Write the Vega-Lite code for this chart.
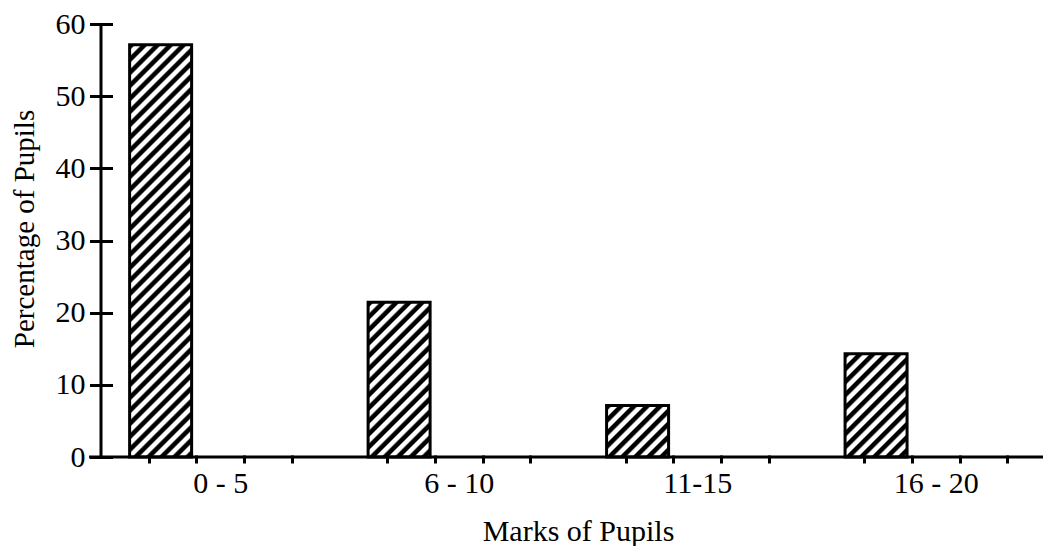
{
  "$schema": "https://vega.github.io/schema/vega-lite/v6.json",
  "width": 942,
  "height": 433,
  "autosize": {"type": "none"},
  "padding": {"left": 101, "top": 24, "right": 0, "bottom": 89},
  "background": "white",
  "config": {"view": {"stroke": null}, "font": "Liberation Serif"},
  "data": {"values": [
    {"marks": "0 - 5", "start": -0.4, "end": 0.9, "pct": 57.14},
    {"marks": "6 - 10", "start": 4.6, "end": 5.9, "pct": 21.43},
    {"marks": "11-15", "start": 9.6, "end": 10.9, "pct": 7.14},
    {"marks": "16 - 20", "start": 14.6, "end": 15.9, "pct": 14.29}
  ]},
  "layer": [
    {
      "encoding": {
        "x": {"field": "start", "type": "quantitative",
          "scale": {"domain": [-1, 18.75], "nice": false, "zero": false},
          "axis": {
            "title": "Marks of Pupils",
            "values": [0, 1, 1.5, 2, 3, 5, 6, 6.5, 7, 8, 10, 11, 11.5, 12, 13, 15, 16, 16.5, 17, 18],
            "labelExpr": "datum.value == 1.5 ? '0 - 5' : datum.value == 6.5 ? '6 - 10' : datum.value == 11.5 ? '11-15' : datum.value == 16.5 ? '16 - 20' : ''",
            "domain": false, "grid": false, "offset": -2,
            "tickSize": 8, "tickWidth": 3, "tickColor": "black",
            "tickOpacity": {"condition": {"test": "datum.value % 5 === 1.5", "value": 0}, "value": 1},
            "labelPadding": 5, "labelFontSize": 30, "labelColor": "black", "labelFont": "Liberation Serif",
            "labelOverlap": false, "labelFlush": false, "labelBound": false,
            "titleFont": "Liberation Serif", "titleFontSize": 30, "titleFontWeight": "normal", "titleColor": "black",
            "titleX": 477, "titleY": 85, "titleBaseline": "alphabetic", "titleAlign": "center"
          }},
        "x2": {"field": "end"},
        "y": {"field": "pct", "type": "quantitative",
          "scale": {"domain": [0, 60], "nice": false, "zero": true},
          "axis": {
            "title": "Percentage of Pupils",
            "values": [0, 10, 20, 30, 40, 50, 60],
            "domain": false, "grid": false, "offset": -11.5,
            "tickSize": 23, "tickWidth": 3, "tickColor": "black",
            "labelPadding": 4.5, "labelFontSize": 30, "labelColor": "black", "labelFont": "Liberation Serif",
            "labelOverlap": false, "labelFlush": false,
            "titleFont": "Liberation Serif", "titleFontSize": 29, "titleFontWeight": "normal", "titleColor": "black",
            "titleAngle": -90, "titleX": -79.5, "titleY": 204.5, "titleBaseline": "alphabetic", "titleAlign": "center"
          }},
        "y2": {"datum": 0}
      },
      "layer": [
        {
          "transform": [{"filter": "datum.marks === '0 - 5'"}],
          "mark": {"type": "bar", "stroke": "black", "strokeWidth": 3, "fill": {"gradient": "linear", "x1": 0, "y1": 0, "x2": 0.18541, "y2": 1.23316, "stops": [
            {"offset":0,"color":"#000"},{"offset":0.00875,"color":"#000"},{"offset":0.0125,"color":"#fff"},{"offset":0.02125,"color":"#fff"},
            {"offset":0.025,"color":"#000"},{"offset":0.03375,"color":"#000"},{"offset":0.0375,"color":"#fff"},{"offset":0.04625,"color":"#fff"},
            {"offset":0.05,"color":"#000"},{"offset":0.05875,"color":"#000"},{"offset":0.0625,"color":"#fff"},{"offset":0.07125,"color":"#fff"},
            {"offset":0.075,"color":"#000"},{"offset":0.08375,"color":"#000"},{"offset":0.0875,"color":"#fff"},{"offset":0.09625,"color":"#fff"},
            {"offset":0.1,"color":"#000"},{"offset":0.10875,"color":"#000"},{"offset":0.1125,"color":"#fff"},{"offset":0.12125,"color":"#fff"},
            {"offset":0.125,"color":"#000"},{"offset":0.13375,"color":"#000"},{"offset":0.1375,"color":"#fff"},{"offset":0.14625,"color":"#fff"},
            {"offset":0.15,"color":"#000"},{"offset":0.15875,"color":"#000"},{"offset":0.1625,"color":"#fff"},{"offset":0.17125,"color":"#fff"},
            {"offset":0.175,"color":"#000"},{"offset":0.18375,"color":"#000"},{"offset":0.1875,"color":"#fff"},{"offset":0.19625,"color":"#fff"},
            {"offset":0.2,"color":"#000"},{"offset":0.20875,"color":"#000"},{"offset":0.2125,"color":"#fff"},{"offset":0.22125,"color":"#fff"},
            {"offset":0.225,"color":"#000"},{"offset":0.23375,"color":"#000"},{"offset":0.2375,"color":"#fff"},{"offset":0.24625,"color":"#fff"},
            {"offset":0.25,"color":"#000"},{"offset":0.25875,"color":"#000"},{"offset":0.2625,"color":"#fff"},{"offset":0.27125,"color":"#fff"},
            {"offset":0.275,"color":"#000"},{"offset":0.28375,"color":"#000"},{"offset":0.2875,"color":"#fff"},{"offset":0.29625,"color":"#fff"},
            {"offset":0.3,"color":"#000"},{"offset":0.30875,"color":"#000"},{"offset":0.3125,"color":"#fff"},{"offset":0.32125,"color":"#fff"},
            {"offset":0.325,"color":"#000"},{"offset":0.33375,"color":"#000"},{"offset":0.3375,"color":"#fff"},{"offset":0.34625,"color":"#fff"},
            {"offset":0.35,"color":"#000"},{"offset":0.35875,"color":"#000"},{"offset":0.3625,"color":"#fff"},{"offset":0.37125,"color":"#fff"},
            {"offset":0.375,"color":"#000"},{"offset":0.38375,"color":"#000"},{"offset":0.3875,"color":"#fff"},{"offset":0.39625,"color":"#fff"},
            {"offset":0.4,"color":"#000"},{"offset":0.40875,"color":"#000"},{"offset":0.4125,"color":"#fff"},{"offset":0.42125,"color":"#fff"},
            {"offset":0.425,"color":"#000"},{"offset":0.43375,"color":"#000"},{"offset":0.4375,"color":"#fff"},{"offset":0.44625,"color":"#fff"},
            {"offset":0.45,"color":"#000"},{"offset":0.45875,"color":"#000"},{"offset":0.4625,"color":"#fff"},{"offset":0.47125,"color":"#fff"},
            {"offset":0.475,"color":"#000"},{"offset":0.48375,"color":"#000"},{"offset":0.4875,"color":"#fff"},{"offset":0.49625,"color":"#fff"},
            {"offset":0.5,"color":"#000"},{"offset":0.50875,"color":"#000"},{"offset":0.5125,"color":"#fff"},{"offset":0.52125,"color":"#fff"},
            {"offset":0.525,"color":"#000"},{"offset":0.53375,"color":"#000"},{"offset":0.5375,"color":"#fff"},{"offset":0.54625,"color":"#fff"},
            {"offset":0.55,"color":"#000"},{"offset":0.55875,"color":"#000"},{"offset":0.5625,"color":"#fff"},{"offset":0.57125,"color":"#fff"},
            {"offset":0.575,"color":"#000"},{"offset":0.58375,"color":"#000"},{"offset":0.5875,"color":"#fff"},{"offset":0.59625,"color":"#fff"},
            {"offset":0.6,"color":"#000"},{"offset":0.60875,"color":"#000"},{"offset":0.6125,"color":"#fff"},{"offset":0.62125,"color":"#fff"},
            {"offset":0.625,"color":"#000"},{"offset":0.63375,"color":"#000"},{"offset":0.6375,"color":"#fff"},{"offset":0.64625,"color":"#fff"},
            {"offset":0.65,"color":"#000"},{"offset":0.65875,"color":"#000"},{"offset":0.6625,"color":"#fff"},{"offset":0.67125,"color":"#fff"},
            {"offset":0.675,"color":"#000"},{"offset":0.68375,"color":"#000"},{"offset":0.6875,"color":"#fff"},{"offset":0.69625,"color":"#fff"},
            {"offset":0.7,"color":"#000"},{"offset":0.70875,"color":"#000"},{"offset":0.7125,"color":"#fff"},{"offset":0.72125,"color":"#fff"},
            {"offset":0.725,"color":"#000"},{"offset":0.73375,"color":"#000"},{"offset":0.7375,"color":"#fff"},{"offset":0.74625,"color":"#fff"},
            {"offset":0.75,"color":"#000"},{"offset":0.75875,"color":"#000"},{"offset":0.7625,"color":"#fff"},{"offset":0.77125,"color":"#fff"},
            {"offset":0.775,"color":"#000"},{"offset":0.78375,"color":"#000"},{"offset":0.7875,"color":"#fff"},{"offset":0.79625,"color":"#fff"},
            {"offset":0.8,"color":"#000"},{"offset":0.80875,"color":"#000"},{"offset":0.8125,"color":"#fff"},{"offset":0.82125,"color":"#fff"},
            {"offset":0.825,"color":"#000"},{"offset":0.83375,"color":"#000"},{"offset":0.8375,"color":"#fff"},{"offset":0.84625,"color":"#fff"},
            {"offset":0.85,"color":"#000"},{"offset":0.85875,"color":"#000"},{"offset":0.8625,"color":"#fff"},{"offset":0.87125,"color":"#fff"},
            {"offset":0.875,"color":"#000"},{"offset":0.88375,"color":"#000"},{"offset":0.8875,"color":"#fff"},{"offset":0.89625,"color":"#fff"},
            {"offset":0.9,"color":"#000"},{"offset":0.90875,"color":"#000"},{"offset":0.9125,"color":"#fff"},{"offset":0.92125,"color":"#fff"},
            {"offset":0.925,"color":"#000"}
          ]}}
        },
        {
          "transform": [{"filter": "datum.marks === '6 - 10'"}],
          "mark": {"type": "bar", "stroke": "black", "strokeWidth": 3, "fill": {"gradient": "linear", "x1": 0, "y1": 0, "x2": 1.16136, "y2": 2.89684, "stops": [
            {"offset":0,"color":"#000"},{"offset":0.00875,"color":"#000"},{"offset":0.0125,"color":"#fff"},{"offset":0.02125,"color":"#fff"},
            {"offset":0.025,"color":"#000"},{"offset":0.03375,"color":"#000"},{"offset":0.0375,"color":"#fff"},{"offset":0.04625,"color":"#fff"},
            {"offset":0.05,"color":"#000"},{"offset":0.05875,"color":"#000"},{"offset":0.0625,"color":"#fff"},{"offset":0.07125,"color":"#fff"},
            {"offset":0.075,"color":"#000"},{"offset":0.08375,"color":"#000"},{"offset":0.0875,"color":"#fff"},{"offset":0.09625,"color":"#fff"},
            {"offset":0.1,"color":"#000"},{"offset":0.10875,"color":"#000"},{"offset":0.1125,"color":"#fff"},{"offset":0.12125,"color":"#fff"},
            {"offset":0.125,"color":"#000"},{"offset":0.13375,"color":"#000"},{"offset":0.1375,"color":"#fff"},{"offset":0.14625,"color":"#fff"},
            {"offset":0.15,"color":"#000"},{"offset":0.15875,"color":"#000"},{"offset":0.1625,"color":"#fff"},{"offset":0.17125,"color":"#fff"},
            {"offset":0.175,"color":"#000"},{"offset":0.18375,"color":"#000"},{"offset":0.1875,"color":"#fff"},{"offset":0.19625,"color":"#fff"},
            {"offset":0.2,"color":"#000"},{"offset":0.20875,"color":"#000"},{"offset":0.2125,"color":"#fff"},{"offset":0.22125,"color":"#fff"},
            {"offset":0.225,"color":"#000"},{"offset":0.23375,"color":"#000"},{"offset":0.2375,"color":"#fff"},{"offset":0.24625,"color":"#fff"},
            {"offset":0.25,"color":"#000"},{"offset":0.25875,"color":"#000"},{"offset":0.2625,"color":"#fff"},{"offset":0.27125,"color":"#fff"},
            {"offset":0.275,"color":"#000"},{"offset":0.28375,"color":"#000"},{"offset":0.2875,"color":"#fff"},{"offset":0.29625,"color":"#fff"},
            {"offset":0.3,"color":"#000"},{"offset":0.30875,"color":"#000"},{"offset":0.3125,"color":"#fff"},{"offset":0.32125,"color":"#fff"},
            {"offset":0.325,"color":"#000"},{"offset":0.33375,"color":"#000"},{"offset":0.3375,"color":"#fff"},{"offset":0.34625,"color":"#fff"},
            {"offset":0.35,"color":"#000"},{"offset":0.35875,"color":"#000"},{"offset":0.3625,"color":"#fff"},{"offset":0.37125,"color":"#fff"},
            {"offset":0.375,"color":"#000"},{"offset":0.38375,"color":"#000"},{"offset":0.3875,"color":"#fff"},{"offset":0.39625,"color":"#fff"},
            {"offset":0.4,"color":"#000"},{"offset":0.40875,"color":"#000"},{"offset":0.4125,"color":"#fff"},{"offset":0.42125,"color":"#fff"},
            {"offset":0.425,"color":"#000"}
          ]}}
        },
        {
          "transform": [{"filter": "datum.marks === '11-15'"}],
          "mark": {"type": "bar", "stroke": "black", "strokeWidth": 3, "fill": {"gradient": "linear", "x1": 0, "y1": 0, "x2": 4.96046, "y2": 4.12278, "stops": [
            {"offset":0,"color":"#000"},{"offset":0.00875,"color":"#000"},{"offset":0.0125,"color":"#fff"},{"offset":0.02125,"color":"#fff"},
            {"offset":0.025,"color":"#000"},{"offset":0.03375,"color":"#000"},{"offset":0.0375,"color":"#fff"},{"offset":0.04625,"color":"#fff"},
            {"offset":0.05,"color":"#000"},{"offset":0.05875,"color":"#000"},{"offset":0.0625,"color":"#fff"},{"offset":0.07125,"color":"#fff"},
            {"offset":0.075,"color":"#000"},{"offset":0.08375,"color":"#000"},{"offset":0.0875,"color":"#fff"},{"offset":0.09625,"color":"#fff"},
            {"offset":0.1,"color":"#000"},{"offset":0.10875,"color":"#000"},{"offset":0.1125,"color":"#fff"},{"offset":0.12125,"color":"#fff"},
            {"offset":0.125,"color":"#000"},{"offset":0.13375,"color":"#000"},{"offset":0.1375,"color":"#fff"},{"offset":0.14625,"color":"#fff"},
            {"offset":0.15,"color":"#000"},{"offset":0.15875,"color":"#000"},{"offset":0.1625,"color":"#fff"},{"offset":0.17125,"color":"#fff"},
            {"offset":0.175,"color":"#000"},{"offset":0.18375,"color":"#000"},{"offset":0.1875,"color":"#fff"},{"offset":0.19625,"color":"#fff"},
            {"offset":0.2,"color":"#000"},{"offset":0.20875,"color":"#000"},{"offset":0.2125,"color":"#fff"},{"offset":0.22125,"color":"#fff"},
            {"offset":0.225,"color":"#000"}
          ]}}
        },
        {
          "transform": [{"filter": "datum.marks === '16 - 20'"}],
          "mark": {"type": "bar", "stroke": "black", "strokeWidth": 3, "fill": {"gradient": "linear", "x1": 0, "y1": 0, "x2": 2.22655, "y2": 3.70361, "stops": [
            {"offset":0,"color":"#000"},{"offset":0.00875,"color":"#000"},{"offset":0.0125,"color":"#fff"},{"offset":0.02125,"color":"#fff"},
            {"offset":0.025,"color":"#000"},{"offset":0.03375,"color":"#000"},{"offset":0.0375,"color":"#fff"},{"offset":0.04625,"color":"#fff"},
            {"offset":0.05,"color":"#000"},{"offset":0.05875,"color":"#000"},{"offset":0.0625,"color":"#fff"},{"offset":0.07125,"color":"#fff"},
            {"offset":0.075,"color":"#000"},{"offset":0.08375,"color":"#000"},{"offset":0.0875,"color":"#fff"},{"offset":0.09625,"color":"#fff"},
            {"offset":0.1,"color":"#000"},{"offset":0.10875,"color":"#000"},{"offset":0.1125,"color":"#fff"},{"offset":0.12125,"color":"#fff"},
            {"offset":0.125,"color":"#000"},{"offset":0.13375,"color":"#000"},{"offset":0.1375,"color":"#fff"},{"offset":0.14625,"color":"#fff"},
            {"offset":0.15,"color":"#000"},{"offset":0.15875,"color":"#000"},{"offset":0.1625,"color":"#fff"},{"offset":0.17125,"color":"#fff"},
            {"offset":0.175,"color":"#000"},{"offset":0.18375,"color":"#000"},{"offset":0.1875,"color":"#fff"},{"offset":0.19625,"color":"#fff"},
            {"offset":0.2,"color":"#000"},{"offset":0.20875,"color":"#000"},{"offset":0.2125,"color":"#fff"},{"offset":0.22125,"color":"#fff"},
            {"offset":0.225,"color":"#000"},{"offset":0.23375,"color":"#000"},{"offset":0.2375,"color":"#fff"},{"offset":0.24625,"color":"#fff"},
            {"offset":0.25,"color":"#000"},{"offset":0.25875,"color":"#000"},{"offset":0.2625,"color":"#fff"},{"offset":0.27125,"color":"#fff"},
            {"offset":0.275,"color":"#000"},{"offset":0.28375,"color":"#000"},{"offset":0.2875,"color":"#fff"},{"offset":0.29625,"color":"#fff"},
            {"offset":0.3,"color":"#000"},{"offset":0.30875,"color":"#000"},{"offset":0.3125,"color":"#fff"},{"offset":0.32125,"color":"#fff"},
            {"offset":0.325,"color":"#000"}
          ]}}
        }
      ]
    },
    {
      "data": {"values": [{"line": "x axis"}]},
      "mark": {"type": "rule", "color": "black", "strokeWidth": 3},
      "encoding": {
        "x": {"datum": -1.25, "type": "quantitative"},
        "x2": {"datum": 18.75},
        "y": {"datum": 0, "type": "quantitative"}
      }
    },
    {
      "data": {"values": [{"line": "y axis"}]},
      "mark": {"type": "rule", "color": "black", "strokeWidth": 3},
      "encoding": {
        "x": {"datum": -1, "type": "quantitative"},
        "y": {"datum": 0, "type": "quantitative"},
        "y2": {"datum": 60}
      }
    }
  ]
}
